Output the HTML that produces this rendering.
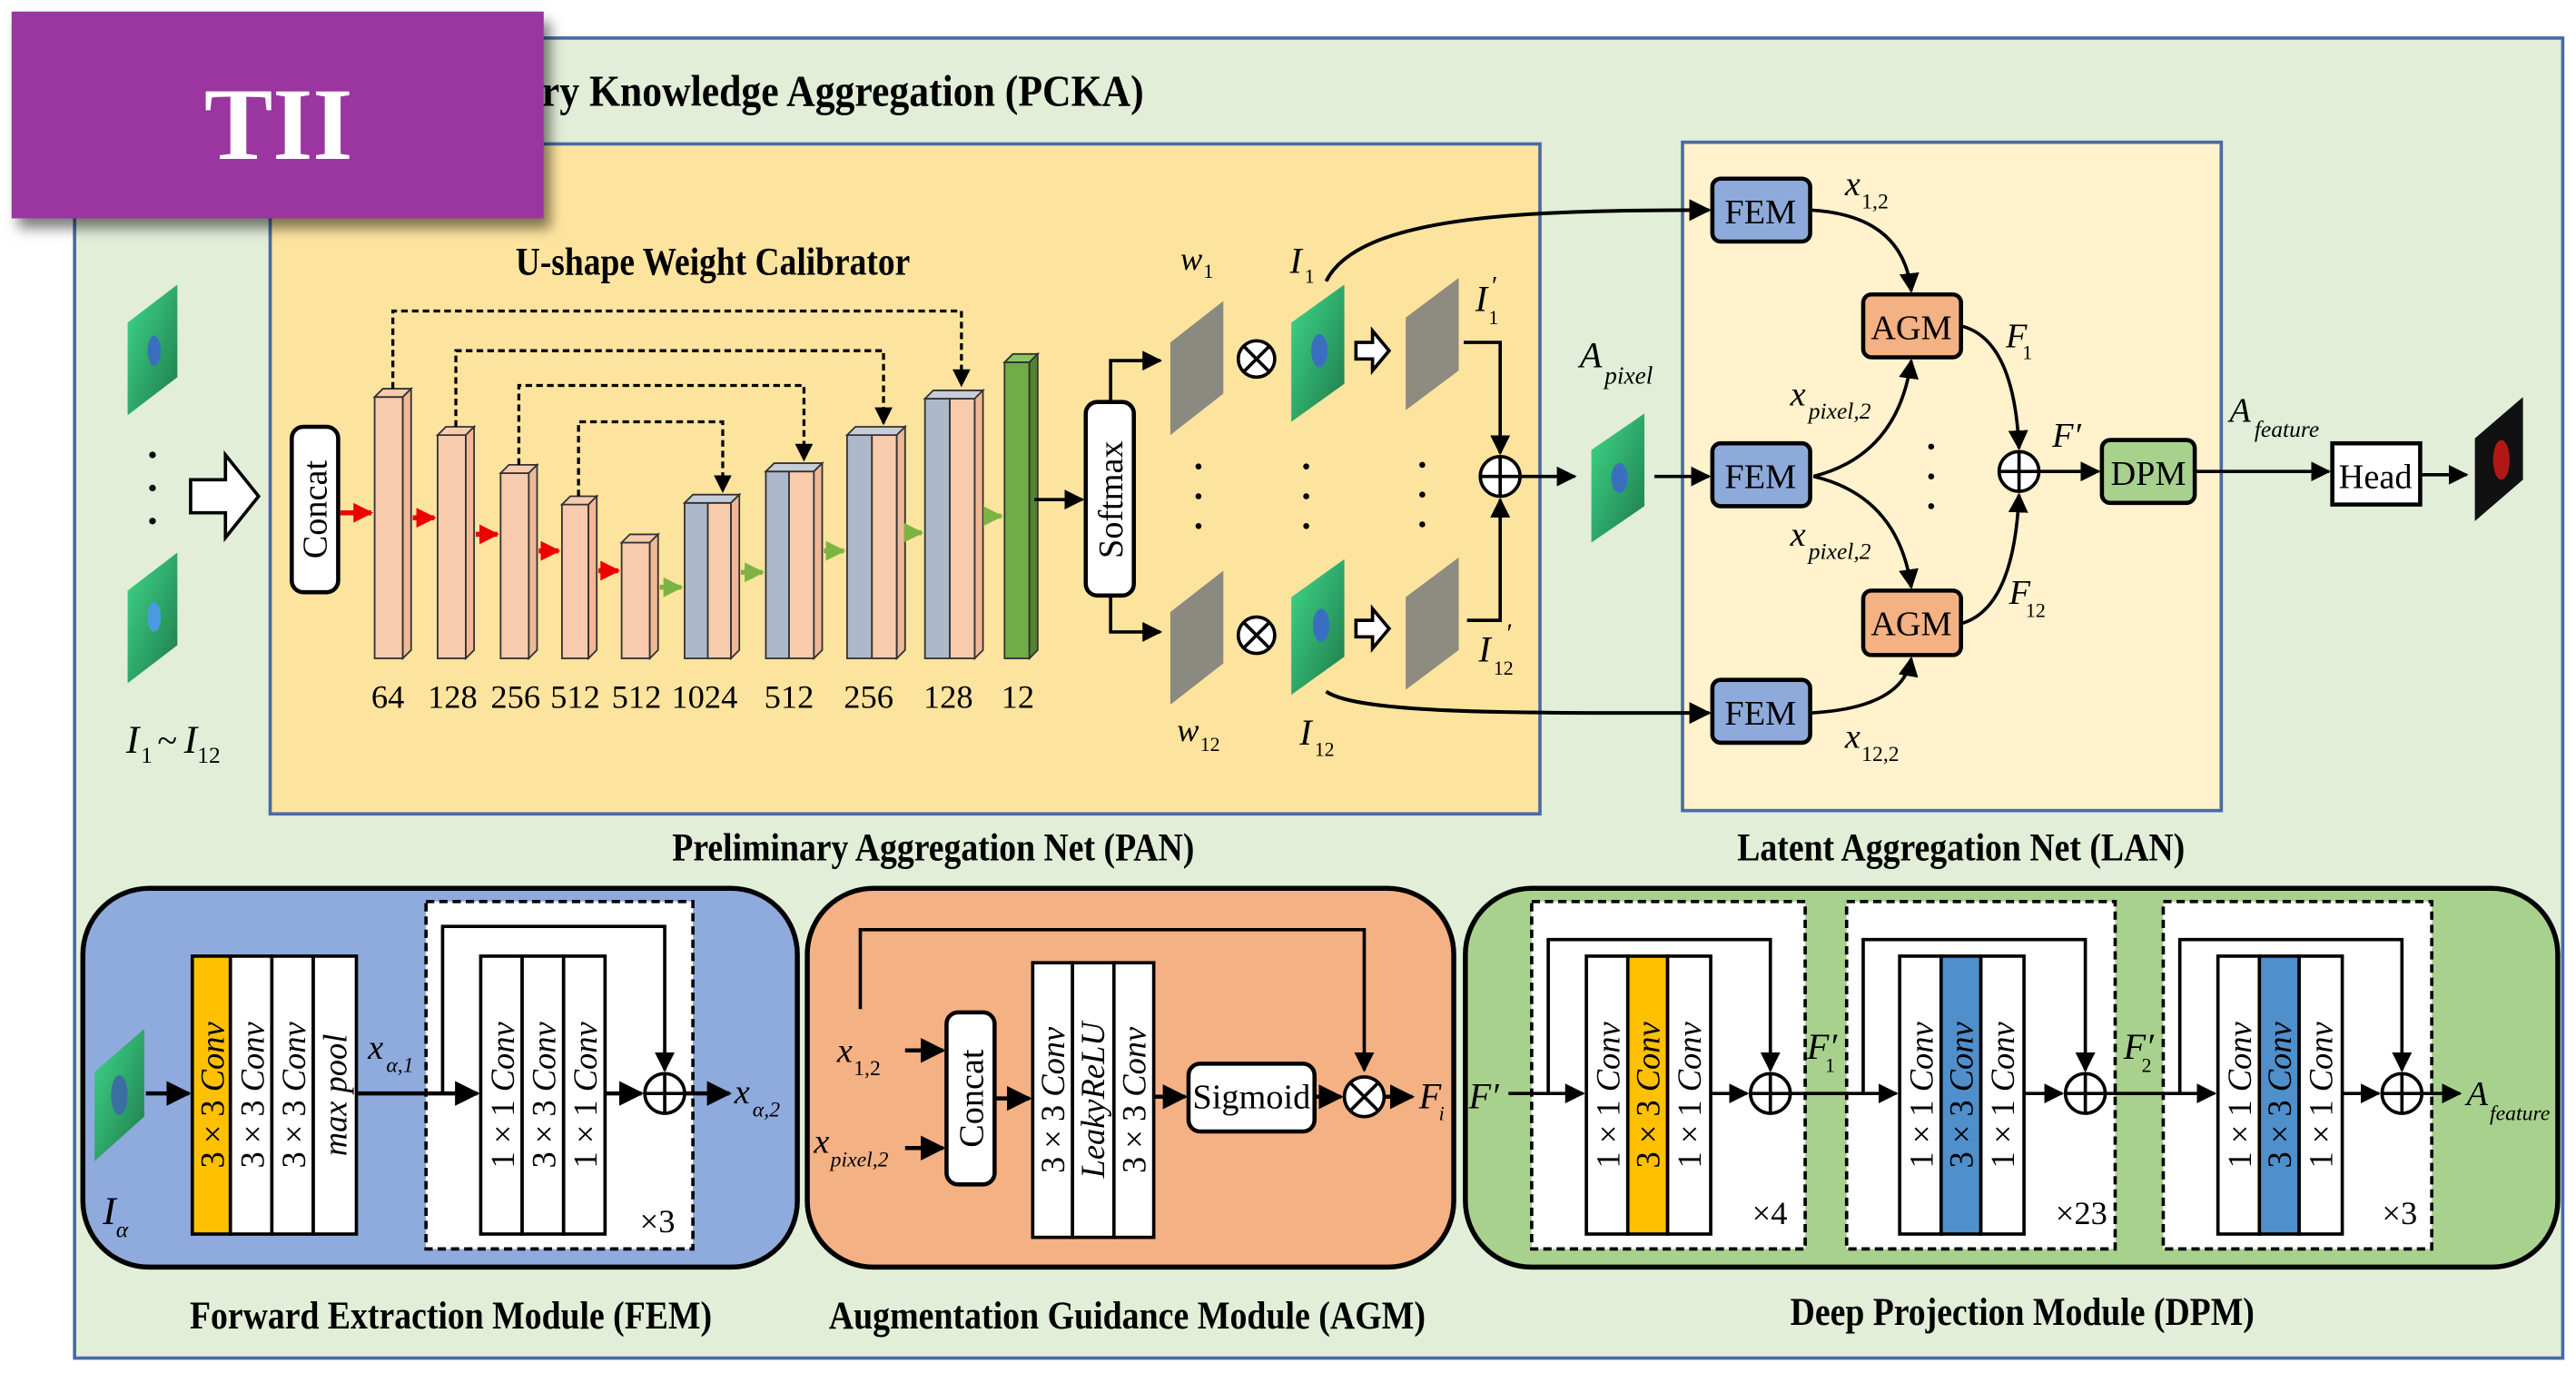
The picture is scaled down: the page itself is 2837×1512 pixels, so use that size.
<!DOCTYPE html>
<html><head><meta charset="utf-8"><style>
html,body{margin:0;padding:0;background:#fff;}
svg{display:block;}
text{font-family:"Liberation Serif","Times New Roman",serif;fill:#000;}
.b{font-weight:bold;}
.i{font-style:italic;}
</style></head><body>
<svg width="2837" height="1512" viewBox="0 0 1554 830" preserveAspectRatio="none" xmlns="http://www.w3.org/2000/svg" font-family="Liberation Serif, serif">
<defs>
<marker id="ah" viewBox="0 0 10 10" refX="9" refY="5" markerWidth="6" markerHeight="6" orient="auto-start-reverse"><path d="M0,0 L10,5 L0,10 z" fill="#000"/></marker>
<marker id="ahr" viewBox="0 0 10 10" refX="9" refY="5" markerWidth="4" markerHeight="4" orient="auto"><path d="M0,0 L10,5 L0,10 z" fill="#e00"/></marker>
<marker id="ahg" viewBox="0 0 10 10" refX="9" refY="5" markerWidth="4" markerHeight="4" orient="auto"><path d="M0,0 L10,5 L0,10 z" fill="#7cb342"/></marker>
<linearGradient id="gi" x1="0" y1="0" x2="1" y2="1"><stop offset="0" stop-color="#3fd88a"/><stop offset="1" stop-color="#1e7a4a"/></linearGradient>
<filter id="sh" x="-10%" y="-10%" width="130%" height="140%"><feDropShadow dx="4" dy="6" stdDeviation="4" flood-opacity="0.5"/></filter>
</defs>
<rect width="1554" height="830" fill="#fff"/>
<rect x="45" y="23" width="1501" height="798" fill="#e2eed8" stroke="#4a6aa5" stroke-width="2"/>
<text x="690" y="64" text-anchor="end" class="b" font-size="27" textLength="630" lengthAdjust="spacingAndGlyphs">Progressive Complementary Knowledge Aggregation (PCKA)</text>
<rect x="163" y="87" width="766" height="405" fill="#fde49e" stroke="#4a6aa5" stroke-width="2"/>
<rect x="1015" y="86" width="325" height="404" fill="#fff2cc" stroke="#4a6aa5" stroke-width="2"/>
<text x="563" y="520" text-anchor="middle" class="b" font-size="24" textLength="315" lengthAdjust="spacingAndGlyphs">Preliminary Aggregation Net (PAN)</text>
<text x="1183" y="520" text-anchor="middle" class="b" font-size="24" textLength="270" lengthAdjust="spacingAndGlyphs">Latent Aggregation Net (LAN)</text>
<text x="430" y="166" text-anchor="middle" class="b" font-size="24" textLength="238" lengthAdjust="spacingAndGlyphs">U-shape Weight Calibrator</text>
<polygon points="77,195 107,172 107,228 77,251" fill="url(#gi)"/><ellipse cx="93" cy="212" rx="4" ry="9" fill="#3a6fc0"/>
<polygon points="77,357 107,334 107,390 77,413" fill="url(#gi)"/><ellipse cx="93" cy="373" rx="4" ry="9" fill="#4a9ae0"/>
<circle cx="92" cy="275" r="2" fill="#000"/><circle cx="92" cy="295" r="2" fill="#000"/><circle cx="92" cy="315" r="2" fill="#000"/>
<text x="76" y="455" class="i" font-size="24">I</text><text x="85" y="461" font-size="14">1</text><text x="95" y="455" font-size="22">~</text><text x="111" y="455" class="i" font-size="24">I</text><text x="119" y="461" font-size="14">12</text>
<polygon points="115,290 136,290 136,275 156,300 136,325 136,310 115,310" fill="#fff" stroke="#000" stroke-width="2"/>
<rect x="176" y="258" width="28" height="100" rx="7" fill="#fff" stroke="#000" stroke-width="2.5"/>
<text transform="translate(197,308) rotate(-90)" text-anchor="middle" font-size="21">Concat</text>
<g stroke="#333" stroke-width="1">
<rect x="226" y="240" width="17" height="158" fill="#f8cbad"/><polygon points="226,240 231,235 248,235 243,240" fill="#f8cbad"/><polygon points="243,240 248,235 248,393 243,398" fill="#f0b896"/>
<rect x="264" y="263" width="17" height="135" fill="#f8cbad"/><polygon points="264,263 269,258 286,258 281,263" fill="#f8cbad"/><polygon points="281,263 286,258 286,393 281,398" fill="#f0b896"/>
<rect x="302" y="286" width="17" height="112" fill="#f8cbad"/><polygon points="302,286 307,281 324,281 319,286" fill="#f8cbad"/><polygon points="319,286 324,281 324,393 319,398" fill="#f0b896"/>
<rect x="339" y="305" width="16" height="93" fill="#f8cbad"/><polygon points="339,305 344,300 360,300 355,305" fill="#f8cbad"/><polygon points="355,305 360,300 360,393 355,398" fill="#f0b896"/>
<rect x="375" y="328" width="17" height="70" fill="#f8cbad"/><polygon points="375,328 380,323 397,323 392,328" fill="#f8cbad"/><polygon points="392,328 397,323 397,393 392,398" fill="#f0b896"/>
<rect x="413" y="304" width="14" height="94" fill="#adb9ca"/><rect x="427" y="304" width="14" height="94" fill="#f8cbad"/><polygon points="413,304 418,299 446,299 441,304" fill="#c6cdd8"/><polygon points="441,304 446,299 446,393 441,398" fill="#f0b896"/>
<rect x="462" y="285" width="14" height="113" fill="#adb9ca"/><rect x="476" y="285" width="15" height="113" fill="#f8cbad"/><polygon points="462,285 467,280 496,280 491,285" fill="#c6cdd8"/><polygon points="491,285 496,280 496,393 491,398" fill="#f0b896"/>
<rect x="511" y="263" width="15" height="135" fill="#adb9ca"/><rect x="526" y="263" width="15" height="135" fill="#f8cbad"/><polygon points="511,263 516,258 546,258 541,263" fill="#c6cdd8"/><polygon points="541,263 546,258 546,393 541,398" fill="#f0b896"/>
<rect x="558" y="241" width="15" height="157" fill="#adb9ca"/><rect x="573" y="241" width="15" height="157" fill="#f8cbad"/><polygon points="558,241 563,236 593,236 588,241" fill="#c6cdd8"/><polygon points="588,241 593,236 593,393 588,398" fill="#f0b896"/>
<rect x="606" y="219" width="15" height="179" fill="#70ad47"/><polygon points="606,219 611,214 626,214 621,219" fill="#8cc563"/><polygon points="621,219 626,214 626,393 621,398" fill="#548235"/>
</g>
<g stroke="#e00" stroke-width="3" marker-end="url(#ahr)">
<line x1="205" y1="310" x2="224" y2="310"/><line x1="249" y1="313" x2="262" y2="313"/><line x1="287" y1="323" x2="300" y2="323"/><line x1="325" y1="333" x2="337" y2="333"/><line x1="361" y1="345" x2="373" y2="345"/>
</g>
<g stroke="#7cb342" stroke-width="3" marker-end="url(#ahg)">
<line x1="398" y1="355" x2="411" y2="355"/><line x1="447" y1="346" x2="460" y2="346"/><line x1="497" y1="333" x2="509" y2="333"/><line x1="547" y1="322" x2="556" y2="322"/><line x1="594" y1="312" x2="604" y2="312"/>
</g>
<g fill="none" stroke="#000" stroke-width="1.8" stroke-dasharray="4,2.5">
<path d="M237,235 V188 H580 V233" marker-end="url(#ah)"/>
<path d="M275,258 V212 H533 V256" marker-end="url(#ah)"/>
<path d="M313,281 V233 H485 V278" marker-end="url(#ah)"/>
<path d="M349,300 V255 H436 V297" marker-end="url(#ah)"/>
</g>
<g font-size="20" text-anchor="middle">
<text x="234" y="428">64</text><text x="273" y="428">128</text><text x="311" y="428">256</text><text x="347" y="428">512</text><text x="384" y="428">512</text><text x="425" y="428">1024</text><text x="476" y="428">512</text><text x="524" y="428">256</text><text x="572" y="428">128</text><text x="614" y="428">12</text>
</g>
<line x1="624" y1="302" x2="653" y2="302" stroke="#000" stroke-width="2" marker-end="url(#ah)"/>
<rect x="655" y="243" width="29" height="117" rx="7" fill="#fff" stroke="#000" stroke-width="2.5"/>
<text transform="translate(677,302) rotate(-90)" text-anchor="middle" font-size="21">Softmax</text>
<path d="M670,243 V218 H700" fill="none" stroke="#000" stroke-width="2" marker-end="url(#ah)"/>
<path d="M670,360 V382 H700" fill="none" stroke="#000" stroke-width="2" marker-end="url(#ah)"/>
<polygon points="706,207 738,182 738,238 706,263" fill="#8a8a80"/>
<polygon points="706,370 738,345 738,401 706,426" fill="#8a8a80"/>
<text x="712" y="163" class="i" font-size="20">w</text><text x="726" y="168" font-size="12">1</text>
<text x="710" y="448" class="i" font-size="20">w</text><text x="724" y="454" font-size="12">12</text>
<g fill="#fff" stroke="#000" stroke-width="2"><circle cx="758" cy="217" r="11"/><circle cx="758" cy="384" r="11"/></g>
<g stroke="#000" stroke-width="2"><line x1="750" y1="209" x2="766" y2="225"/><line x1="766" y1="209" x2="750" y2="225"/><line x1="750" y1="376" x2="766" y2="392"/><line x1="766" y1="376" x2="750" y2="392"/></g>
<polygon points="779,195 811,172 811,232 779,255" fill="url(#gi)"/><ellipse cx="796" cy="212" rx="5" ry="10" fill="#3a6fc0"/>
<polygon points="779,361 811,338 811,397 779,420" fill="url(#gi)"/><ellipse cx="797" cy="378" rx="5" ry="10" fill="#3a6fc0"/>
<text x="778" y="165" class="i" font-size="22">I</text><text x="787" y="171" font-size="12">1</text>
<text x="784" y="450" class="i" font-size="22">I</text><text x="793" y="457" font-size="12">12</text>
<g fill="#fff" stroke="#000" stroke-width="2"><polygon points="818,207 828,207 828,200 838,212 828,224 828,217 818,217"/><polygon points="818,375 828,375 828,368 838,380 828,392 828,385 818,385"/></g>
<polygon points="848,192 880,168 880,224 848,248" fill="#8e8c80"/>
<polygon points="848,361 880,337 880,393 848,417" fill="#8e8c80"/>
<g fill="#000"><circle cx="723" cy="282" r="1.8"/><circle cx="723" cy="300" r="1.8"/><circle cx="723" cy="318" r="1.8"/>
<circle cx="788" cy="282" r="1.8"/><circle cx="788" cy="300" r="1.8"/><circle cx="788" cy="318" r="1.8"/>
<circle cx="858" cy="281" r="1.8"/><circle cx="858" cy="299" r="1.8"/><circle cx="858" cy="317" r="1.8"/></g>
<text x="890" y="188" class="i" font-size="22">I</text><text x="898" y="196" font-size="12">1</text><text x="900" y="178" font-size="16">′</text>
<text x="892" y="400" class="i" font-size="22">I</text><text x="901" y="408" font-size="12">12</text><text x="909" y="388" font-size="16">′</text>
<path d="M883,207 H905 V274" fill="none" stroke="#000" stroke-width="2" marker-end="url(#ah)"/>
<path d="M885,375 H905 V302" fill="none" stroke="#000" stroke-width="2" marker-end="url(#ah)"/>
<circle cx="905" cy="288" r="12" fill="#fff" stroke="#000" stroke-width="2"/><path d="M893,288 H917 M905,276 V300" stroke="#000" stroke-width="2"/>
<line x1="917" y1="288" x2="950" y2="288" stroke="#000" stroke-width="2" marker-end="url(#ah)"/>
<polygon points="960,272 992,250 992,306 960,328" fill="url(#gi)"/><ellipse cx="977" cy="289" rx="5" ry="9" fill="#3a6fc0"/>
<text x="953" y="222" class="i" font-size="22">A</text><text x="968" y="232" class="i" font-size="15">pixel</text>
<line x1="998" y1="288" x2="1031" y2="288" stroke="#000" stroke-width="2" marker-end="url(#ah)"/>
<path d="M800,170 C820,130 920,127 1031,127" fill="none" stroke="#000" stroke-width="2.2" marker-end="url(#ah)"/>
<path d="M800,418 C820,432 920,431 1031,431" fill="none" stroke="#000" stroke-width="2.2" marker-end="url(#ah)"/>
<g stroke="#000" stroke-width="2.5">
<rect x="1033" y="108" width="59" height="38" rx="5" fill="#8eaadb"/>
<rect x="1033" y="268" width="59" height="38" rx="5" fill="#8eaadb"/>
<rect x="1033" y="411" width="59" height="38" rx="5" fill="#8eaadb"/>
<rect x="1124" y="178" width="59" height="38" rx="5" fill="#f4b183"/>
<rect x="1124" y="357" width="59" height="39" rx="5" fill="#f4b183"/>
<rect x="1268" y="266" width="56" height="38" rx="5" fill="#a9d18e"/>
<rect x="1407" y="268" width="53" height="37" fill="#fff"/>
</g>
<g font-size="21" text-anchor="middle">
<text x="1062" y="135">FEM</text><text x="1062" y="295">FEM</text><text x="1062" y="438">FEM</text>
<text x="1153" y="205">AGM</text><text x="1153" y="384">AGM</text><text x="1296" y="293">DPM</text><text x="1433" y="295">Head</text>
</g>
<g fill="none" stroke="#000" stroke-width="2" marker-end="url(#ah)">
<path d="M1092,127 Q1148,130 1153,176"/>
<path d="M1094,288 Q1145,275 1153,218"/>
<path d="M1094,288 Q1145,300 1153,355"/>
<path d="M1092,431 Q1148,428 1153,398"/>
<path d="M1183,197 Q1215,205 1218,271"/>
<path d="M1183,377 Q1215,368 1218,299"/>
<path d="M1230,285 L1266,285"/>
<path d="M1324,285 L1405,285"/>
<path d="M1460,287 L1488,287"/>
</g>
<circle cx="1218" cy="285" r="12" fill="#fff" stroke="#000" stroke-width="2"/><path d="M1206,285 H1230 M1218,273 V297" stroke="#000" stroke-width="2"/>
<g fill="#000"><circle cx="1165" cy="270" r="1.8"/><circle cx="1165" cy="288" r="1.8"/><circle cx="1165" cy="306" r="1.8"/></g>
<polygon points="1493,265 1522,240 1522,290 1493,315" fill="#111"/><ellipse cx="1509" cy="278" rx="5" ry="12" fill="#b01818"/>
<g class="i" font-size="21">
<text x="1113" y="118">x</text><text x="1123" y="126" font-size="13" font-style="normal">1,2</text>
<text x="1080" y="245">x</text><text x="1091" y="253" font-size="14">pixel,2</text>
<text x="1080" y="330">x</text><text x="1091" y="338" font-size="14">pixel,2</text>
<text x="1113" y="452">x</text><text x="1123" y="460" font-size="13" font-style="normal">12,2</text>
<text x="1210" y="210">F</text><text x="1220" y="217" font-size="12" font-style="normal">1</text>
<text x="1212" y="365">F</text><text x="1222" y="373" font-size="12" font-style="normal">12</text>
<text x="1238" y="270">F′</text>
<text x="1345" y="255">A</text><text x="1360" y="264" font-size="14">feature</text>
</g>
<g stroke="#000" stroke-width="3">
<rect x="50" y="537" width="431" height="229" rx="40" fill="#8faadc"/>
<rect x="487" y="537" width="390" height="229" rx="40" fill="#f4b183"/>
<rect x="884" y="537" width="659" height="229" rx="40" fill="#a9d18e"/>
</g>
<text x="272" y="803" text-anchor="middle" class="b" font-size="24" textLength="315" lengthAdjust="spacingAndGlyphs">Forward Extraction Module (FEM)</text>
<text x="680" y="803" text-anchor="middle" class="b" font-size="24" textLength="360" lengthAdjust="spacingAndGlyphs">Augmentation Guidance Module (AGM)</text>
<text x="1220" y="801" text-anchor="middle" class="b" font-size="24" textLength="280" lengthAdjust="spacingAndGlyphs">Deep Projection Module (DPM)</text>
<polygon points="57,648 87,622 87,675 57,702" fill="url(#gi)"/><ellipse cx="72" cy="662" rx="5" ry="12" fill="#3a6fa0"/>
<text x="62" y="740" class="i" font-size="24">I</text><text x="70" y="748" class="i" font-size="14">α</text>
<line x1="88" y1="661" x2="114" y2="661" stroke="#000" stroke-width="2.5" marker-end="url(#ah)"/>
<rect x="257" y="545" width="161" height="210" fill="#fff" stroke="#000" stroke-width="2" stroke-dasharray="5,3"/>
<g stroke="#000" stroke-width="2">
<rect x="116" y="578" width="23" height="168" fill="#ffc000"/><rect x="139" y="578" width="25" height="168" fill="#fff"/><rect x="164" y="578" width="25" height="168" fill="#fff"/><rect x="189" y="578" width="26" height="168" fill="#fff"/>
<rect x="290" y="578" width="25" height="168" fill="#fff"/><rect x="315" y="578" width="25" height="168" fill="#fff"/><rect x="340" y="578" width="25" height="168" fill="#fff"/>
</g>
<g font-size="20" text-anchor="middle">
<text transform="translate(135,662) rotate(-90)">3 × 3 <tspan class="i">Conv</tspan></text>
<text transform="translate(159,662) rotate(-90)">3 × 3 <tspan class="i">Conv</tspan></text>
<text transform="translate(184,662) rotate(-90)">3 × 3 <tspan class="i">Conv</tspan></text>
<text transform="translate(209,662) rotate(-90)" class="i">max pool</text>
<text transform="translate(310,662) rotate(-90)">1 × 1 <tspan class="i">Conv</tspan></text>
<text transform="translate(335,662) rotate(-90)">3 × 3 <tspan class="i">Conv</tspan></text>
<text transform="translate(360,662) rotate(-90)">1 × 1 <tspan class="i">Conv</tspan></text>
</g>
<path d="M267,661 V560 H401 V647" fill="none" stroke="#000" stroke-width="2" marker-end="url(#ah)"/>
<line x1="215" y1="661" x2="288" y2="661" stroke="#000" stroke-width="2.5" marker-end="url(#ah)"/>
<line x1="365" y1="661" x2="387" y2="661" stroke="#000" stroke-width="2.5" marker-end="url(#ah)"/>
<circle cx="401" cy="661" r="12" fill="#fff" stroke="#000" stroke-width="2"/><path d="M389,661 H413 M401,649 V673" stroke="#000" stroke-width="2"/>
<line x1="413" y1="661" x2="440" y2="661" stroke="#000" stroke-width="2.5" marker-end="url(#ah)"/>
<text x="386" y="745" font-size="20">×3</text>
<text x="222" y="640" class="i" font-size="21">x</text><text x="233" y="648" class="i" font-size="13">α,1</text>
<text x="443" y="667" class="i" font-size="21">x</text><text x="454" y="675" class="i" font-size="13">α,2</text>
<path d="M519,610 V562 H823 V647" fill="none" stroke="#000" stroke-width="2" marker-end="url(#ah)"/>
<text x="505" y="642" class="i" font-size="21">x</text><text x="515" y="650" font-size="13">1,2</text>
<text x="491" y="697" class="i" font-size="21">x</text><text x="501" y="705" class="i" font-size="13">pixel,2</text>
<line x1="546" y1="635" x2="569" y2="635" stroke="#000" stroke-width="2.5" marker-end="url(#ah)"/>
<line x1="546" y1="694" x2="569" y2="694" stroke="#000" stroke-width="2.5" marker-end="url(#ah)"/>
<rect x="571" y="612" width="29" height="104" rx="7" fill="#fff" stroke="#000" stroke-width="2.5"/>
<text transform="translate(593,664) rotate(-90)" text-anchor="middle" font-size="21">Concat</text>
<line x1="600" y1="664" x2="621" y2="664" stroke="#000" stroke-width="2.5" marker-end="url(#ah)"/>
<g stroke="#000" stroke-width="2"><rect x="623" y="582" width="24" height="166" fill="#fff"/><rect x="647" y="582" width="25" height="166" fill="#fff"/><rect x="672" y="582" width="24" height="166" fill="#fff"/></g>
<g font-size="20" text-anchor="middle">
<text transform="translate(642,665) rotate(-90)">3 × 3 <tspan class="i">Conv</tspan></text>
<text transform="translate(666,665) rotate(-90)" class="i">LeakyReLU</text>
<text transform="translate(691,665) rotate(-90)">3 × 3 <tspan class="i">Conv</tspan></text>
</g>
<line x1="696" y1="663" x2="715" y2="663" stroke="#000" stroke-width="2.5" marker-end="url(#ah)"/>
<rect x="717" y="643" width="76" height="41" rx="7" fill="#fff" stroke="#000" stroke-width="2.5"/>
<text x="755" y="670" text-anchor="middle" font-size="21">Sigmoid</text>
<line x1="793" y1="663" x2="809" y2="663" stroke="#000" stroke-width="2.5" marker-end="url(#ah)"/>
<circle cx="823" cy="663" r="12" fill="#fff" stroke="#000" stroke-width="2"/><path d="M815,655 L831,671 M831,655 L815,671" stroke="#000" stroke-width="2"/>
<line x1="835" y1="663" x2="852" y2="663" stroke="#000" stroke-width="2.5" marker-end="url(#ah)"/>
<text x="856" y="670" class="i" font-size="22">F</text><text x="868" y="677" class="i" font-size="12">i</text>
<g fill="#fff" stroke="#000" stroke-width="2" stroke-dasharray="5,3">
<rect x="924" y="545" width="165" height="210"/><rect x="1114" y="545" width="162" height="210"/><rect x="1305" y="545" width="162" height="210"/>
</g>
<g stroke="#000" stroke-width="2">
<rect x="957" y="578" width="25" height="168" fill="#fff"/><rect x="982" y="578" width="24" height="168" fill="#ffc000"/><rect x="1006" y="578" width="26" height="168" fill="#fff"/>
<rect x="1146" y="578" width="25" height="168" fill="#fff"/><rect x="1171" y="578" width="24" height="168" fill="#4f8fcc"/><rect x="1195" y="578" width="26" height="168" fill="#fff"/>
<rect x="1338" y="578" width="25" height="168" fill="#fff"/><rect x="1363" y="578" width="24" height="168" fill="#4f8fcc"/><rect x="1387" y="578" width="26" height="168" fill="#fff"/>
</g>
<g font-size="20" text-anchor="middle">
<text transform="translate(977,662) rotate(-90)">1 × 1 <tspan class="i">Conv</tspan></text>
<text transform="translate(1001,662) rotate(-90)">3 × 3 <tspan class="i">Conv</tspan></text>
<text transform="translate(1026,662) rotate(-90)">1 × 1 <tspan class="i">Conv</tspan></text>
<text transform="translate(1166,662) rotate(-90)">1 × 1 <tspan class="i">Conv</tspan></text>
<text transform="translate(1190,662) rotate(-90)">3 × 3 <tspan class="i">Conv</tspan></text>
<text transform="translate(1215,662) rotate(-90)">1 × 1 <tspan class="i">Conv</tspan></text>
<text transform="translate(1358,662) rotate(-90)">1 × 1 <tspan class="i">Conv</tspan></text>
<text transform="translate(1382,662) rotate(-90)">3 × 3 <tspan class="i">Conv</tspan></text>
<text transform="translate(1407,662) rotate(-90)">1 × 1 <tspan class="i">Conv</tspan></text>
</g>
<g fill="none" stroke="#000" stroke-width="2" marker-end="url(#ah)">
<path d="M934,661 V568 H1068 V647"/><path d="M1124,661 V568 H1258 V647"/><path d="M1315,661 V568 H1449 V647"/>
<path d="M910,661 H955"/><path d="M1032,661 H1054"/><path d="M1080,661 H1144"/><path d="M1221,661 H1244"/><path d="M1270,661 H1336"/><path d="M1413,661 H1435"/><path d="M1461,661 H1484"/>
</g>
<g fill="#fff" stroke="#000" stroke-width="2"><circle cx="1068" cy="661" r="12"/><circle cx="1258" cy="661" r="12"/><circle cx="1449" cy="661" r="12"/></g>
<path d="M1056,661 H1080 M1068,649 V673 M1246,661 H1270 M1258,649 V673 M1437,661 H1461 M1449,649 V673" stroke="#000" stroke-width="2"/>
<g font-size="20"><text x="1057" y="740">×4</text><text x="1240" y="740">×23</text><text x="1437" y="740">×3</text></g>
<text x="886" y="670" class="i" font-size="22">F′</text>
<text x="1090" y="640" class="i" font-size="22">F′</text><text x="1101" y="648" font-size="12">1</text>
<text x="1281" y="640" class="i" font-size="22">F′</text><text x="1292" y="648" font-size="12">2</text>
<text x="1488" y="668" class="i" font-size="21">A</text><text x="1502" y="677" class="i" font-size="13">feature</text>
<rect x="7" y="7" width="321" height="125" fill="#9b35a0" filter="url(#sh)"/>
<text x="168" y="96" text-anchor="middle" font-size="62" class="b" style="fill:#fff">TII</text>
</svg>
</body></html>
